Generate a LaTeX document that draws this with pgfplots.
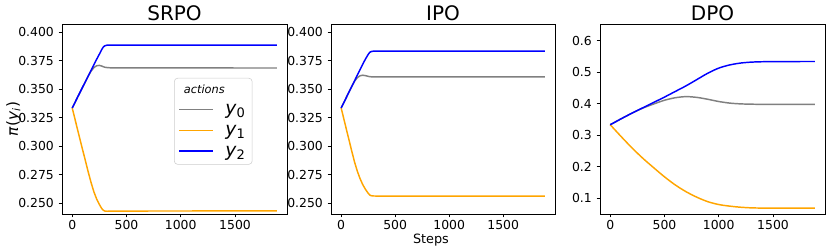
\documentclass[border=0pt]{standalone}
\usepackage{fontspec}
\setmainfont{DejaVu Sans}
\usepackage{pgfplots}
\pgfplotsset{compat=1.18}

\definecolor{mgray}{HTML}{808080}
\definecolor{morange}{HTML}{FFA500}
\definecolor{mblue}{HTML}{0000FF}

\pgfplotsset{
  base/.style={
    scale only axis, height=142.5pt,
    anchor=south west,
    xmin=-94, xmax=1979,
    xtick={0,500,1000,1500},
    tick align=outside, xtick pos=left, ytick pos=left,
    major tick length=2.6pt,
    tick style={black, line width=0.6pt},
    axis line style={line width=0.6pt},
    ticklabel style={font=\fontsize{9.3}{11}\selectfont},
    xticklabel style={yshift=1.2pt},
    /pgf/number format/assume math mode=true,
    /pgf/number format/1000 sep={},
    every axis title/.style={at={(0.5,1)}, anchor=south, inner sep=0pt, yshift=2pt, font=\fontsize{15}{17}\selectfont},
  },
  yfix/.style={
    ymin=0.2404, ymax=0.407,
    ytick={0.250,0.275,0.300,0.325,0.350,0.375,0.400},
    yticklabel style={/pgf/number format/.cd, fixed, fixed zerofill, precision=3},
  },
  lg/.style={color=mgray, line width=1.1pt, line join=round, mark=none},
  lo/.style={color=morange, line width=1.1pt, line join=round, mark=none},
  lb/.style={color=mblue, line width=1.1pt, line join=round, mark=none},
}

\begin{document}
\begin{tikzpicture}
\path[use as bounding box] (0,0) rectangle (622.5pt,-189pt);

% ---------------- SRPO ----------------
\begin{axis}[base, yfix, at={(46.5pt,-160.5pt)}, width=168.75pt,
  title={SRPO},
  ylabel={{\itshape π}(\textit{y}\textsubscript{\itshape i})},
  every axis y label/.style={at={(axis description cs:-0.215,0.5)}, rotate=90, anchor=center, font=\fontsize{11.5}{13}\selectfont},
  legend image code/.code={\draw[mark repeat=2,mark phase=2,#1] plot coordinates {(0cm,0cm) (0.45cm,0cm) (0.9cm,0cm)};},
  legend style={at={(axis description cs:0.498,0.716)}, anchor=north west, draw=black!20, rounded corners=2.5pt, fill=white,
    font=\fontsize{14}{15}\selectfont, inner xsep=3pt, inner ysep=2.5pt, row sep=1pt},
  legend cell align=left,
]
\addlegendimage{empty legend}
\addlegendentry{\hspace{-24.5pt}{\fontsize{8.5}{10}\selectfont\itshape actions}\rule[-11.5pt]{0pt}{18.5pt}}
\addplot[lg] coordinates {
(0,0.3333) (50,0.3429) (100,0.3524) (150,0.3618) (175,0.3658) (200,0.3688) (225,0.3704) (250,0.3707)
(270,0.3702) (285,0.3696) (300,0.3691) (320,0.3688) (350,0.3686) (500,0.3685) (1885,0.3684)};
\addlegendentry{\hspace{6.5pt}\textit{y}\textsubscript{0}\rule[-7.8pt]{0pt}{17pt}}
\addplot[lo] coordinates {
(0,0.3334) (50,0.3142) (100,0.2952) (150,0.2764) (175,0.2676) (200,0.2598) (225,0.2536) (250,0.2488)
(270,0.2455) (285,0.2438) (300,0.2430) (320,0.2428) (350,0.2429) (500,0.2430) (1885,0.2431)};
\addlegendentry{\hspace{6.5pt}\textit{y}\textsubscript{1}\rule[-7.8pt]{0pt}{17pt}}
\addplot[lb] coordinates {
(0,0.3333) (50,0.3429) (100,0.3524) (150,0.3618) (175,0.3666) (200,0.3714) (225,0.3760) (250,0.3805)
(270,0.3843) (285,0.3866) (300,0.3879) (320,0.3884) (350,0.3885) (500,0.3885) (1885,0.3885)};
\addlegendentry{\hspace{6.5pt}\textit{y}\textsubscript{2}\rule[-7.8pt]{0pt}{17pt}}
\end{axis}

% ---------------- IPO ----------------
\begin{axis}[base, yfix, at={(248.25pt,-160.5pt)}, width=168pt,
  title={IPO},
  xlabel={Steps},
  every axis x label/.style={at={(axis description cs:0.446,-0.137)}, anchor=center, font=\fontsize{9.6}{11}\selectfont},
]
\addplot[lg] coordinates {
(0,0.3333) (50,0.3430) (100,0.3526) (125,0.3570) (150,0.3600) (175,0.3616) (200,0.3621) (225,0.3617)
(250,0.3611) (265,0.3608) (280,0.3607) (300,0.3606) (350,0.3606) (1885,0.3606)};
\addplot[lo] coordinates {
(0,0.3334) (50,0.3140) (100,0.2948) (125,0.2856) (150,0.2778) (175,0.2714) (200,0.2661) (225,0.2620)
(250,0.2586) (265,0.2570) (280,0.2564) (300,0.2562) (350,0.2561) (1885,0.2561)};
\addplot[lb] coordinates {
(0,0.3333) (50,0.3430) (100,0.3526) (125,0.3574) (150,0.3622) (175,0.3670) (200,0.3718) (225,0.3763)
(250,0.3803) (265,0.3822) (280,0.3829) (300,0.3832) (350,0.3833) (1885,0.3833)};
\end{axis}

% ---------------- DPO ----------------
\begin{axis}[base, at={(450pt,-160.5pt)}, width=168.75pt,
  title={DPO},
  ymin=0.05, ymax=0.653,
  ytick={0.1,0.2,0.3,0.4,0.5,0.6},
  yticklabel style={/pgf/number format/.cd, fixed, fixed zerofill, precision=1},
]
\addplot[lg, smooth] coordinates {
(0,0.3333) (100,0.3520) (200,0.3700) (300,0.3860) (400,0.3990) (500,0.4110) (600,0.4190) (700,0.4225)
(800,0.4200) (900,0.4140) (1000,0.4070) (1100,0.4020) (1200,0.3995) (1300,0.3985) (1400,0.3980)
(1600,0.3978) (1885,0.3977)};
\addplot[lo, smooth] coordinates {
(0,0.3334) (100,0.2960) (200,0.2600) (300,0.2270) (400,0.1970) (500,0.1680) (600,0.1420) (700,0.1205)
(800,0.1030) (900,0.0890) (1000,0.0800) (1100,0.0750) (1200,0.0715) (1300,0.0695) (1400,0.0688)
(1600,0.0684) (1885,0.0683)};
\addplot[lb, smooth] coordinates {
(0,0.3333) (100,0.3520) (200,0.3700) (300,0.3870) (400,0.4040) (500,0.4210) (600,0.4390) (700,0.4570)
(800,0.4770) (900,0.4970) (1000,0.5130) (1100,0.5230) (1200,0.5290) (1300,0.5320) (1400,0.5332)
(1600,0.5338) (1885,0.5340)};
\end{axis}
\end{tikzpicture}
\end{document}
